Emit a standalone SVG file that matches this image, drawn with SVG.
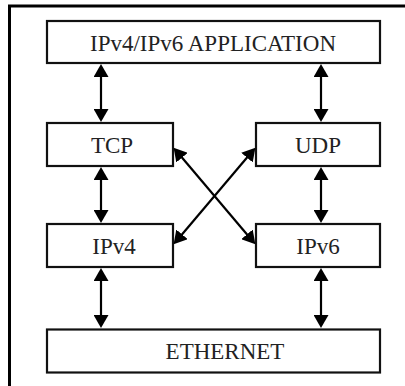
<svg xmlns="http://www.w3.org/2000/svg" width="405" height="386" viewBox="0 0 405 386">
<style>
.box{fill:#fff;stroke:#111;stroke-width:2.2}
.lbl{font-family:"Liberation Serif","Times New Roman",serif;font-size:23px;fill:#222;text-anchor:middle}
.con{stroke:#000;stroke-width:2.2;fill:none;marker-start:url(#ah);marker-end:url(#ah)}
</style>
<defs>
<marker id="ah" markerUnits="userSpaceOnUse" markerWidth="13" markerHeight="15" refX="7" refY="7.5" orient="auto-start-reverse" viewBox="0 0 13 15">
<path d="M0,0 L13,7.5 L0,15 z" fill="#000"/>
</marker>
</defs>
<rect x="0" y="0" width="405" height="386" fill="#fff"/>
<rect x="9.5" y="6" width="420" height="400" fill="none" stroke="#000" stroke-width="3"/>
<g id="app"><rect class="box" x="47" y="21" width="333" height="42"/><text class="lbl" x="213" y="51">IPv4/IPv6 APPLICATION</text></g>
<g id="tcp"><rect class="box" x="47" y="123" width="126" height="43"/><text class="lbl" x="112" y="153">TCP</text></g>
<g id="udp"><rect class="box" x="256" y="123" width="124" height="43"/><text class="lbl" x="318" y="153">UDP</text></g>
<g id="ipv4"><rect class="box" x="47" y="224" width="126" height="43"/><text class="lbl" x="114" y="254">IPv4</text></g>
<g id="ipv6"><rect class="box" x="256" y="224" width="124" height="43"/><text class="lbl" x="318" y="254">IPv6</text></g>
<g id="ethernet"><rect class="box" x="47" y="329.5" width="333" height="43"/><text class="lbl" x="225" y="359">ETHERNET</text></g>
<g id="connectors">
<line class="con" x1="101" y1="70" x2="101" y2="116"/>
<line class="con" x1="321" y1="70" x2="321" y2="116"/>
<line class="con" x1="101" y1="173" x2="101" y2="217"/>
<line class="con" x1="321" y1="173" x2="321" y2="217"/>
<line class="con" x1="101" y1="274" x2="101" y2="322"/>
<line class="con" x1="321" y1="274" x2="321" y2="322"/>
<line class="con" x1="177.5" y1="152.3" x2="251.5" y2="239.7"/>
<line class="con" x1="251.5" y1="152.3" x2="177.5" y2="239.7"/>
</g>
</svg>
